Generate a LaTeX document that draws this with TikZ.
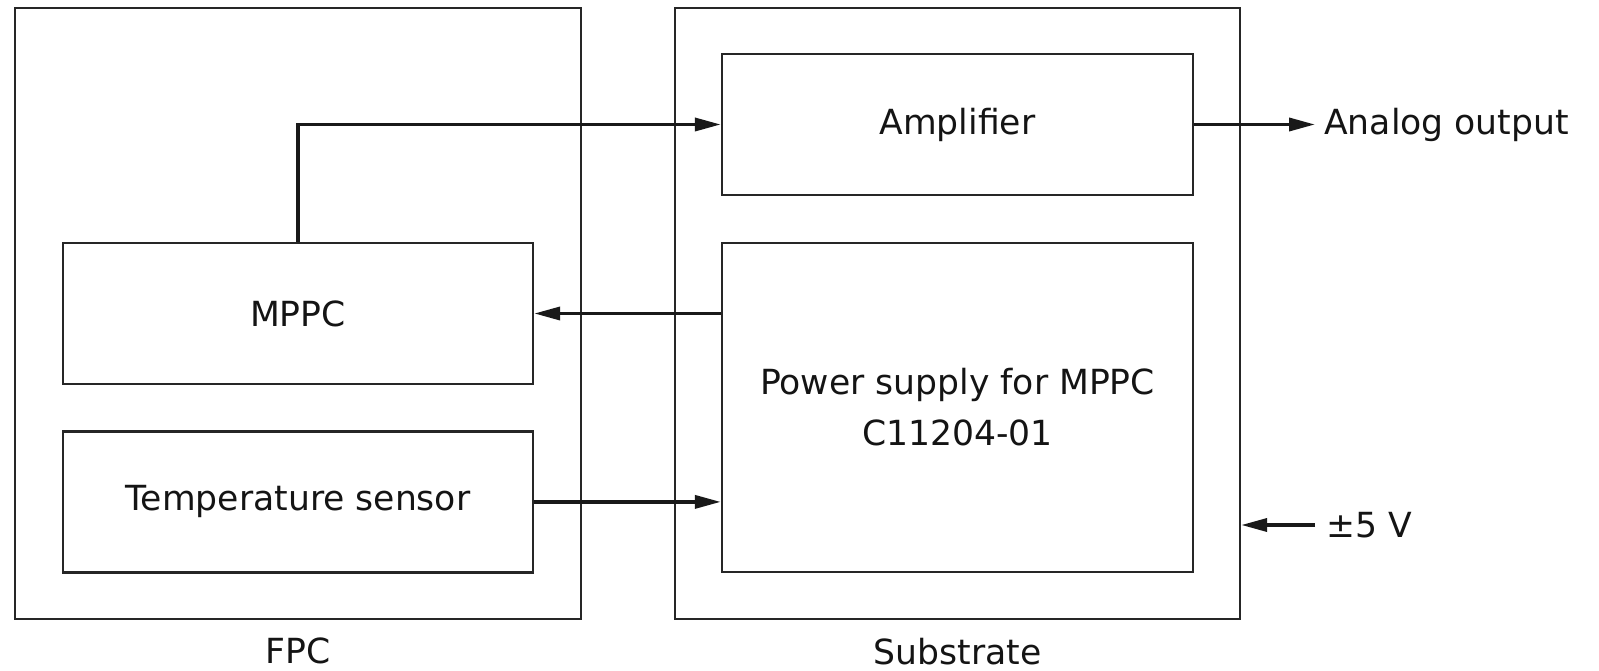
\documentclass[tikz,border=0pt]{standalone}
\usepackage{fontspec}
\setmainfont{DejaVu Sans}
\usepackage{xcolor}
\usetikzlibrary{arrows.meta,positioning}

\begin{document}
\begin{tikzpicture}[x=1pt,y=-1pt,
  node distance=45pt and 189pt,
  every node/.style={font=\fontsize{34.6}{51}\selectfont,text=black!92},
  frame/.style={rectangle,draw=black!85,line width=2.4pt,minimum width=566pt,minimum height=611pt,inner sep=0pt},
  blk/.style={rectangle,draw=black!85,line width=2.4pt,align=center,minimum width=470pt,minimum height=141pt,inner sep=0pt},
  lbl/.style={inner sep=0pt},
  edge/.style={-{Triangle[length=26pt,width=13pt]},line width=3.6pt,draw=black!90}]
\useasboundingbox (0,0) rectangle (1599,671);
% outer boards
\node[frame] (fpc) at (298,313.5) {};
\node[frame,minimum width=565pt] (sub) at (957.5,313.5) {};
\node[lbl,anchor=north] (fpclbl) at (298,638) {FPC};
\node[lbl,anchor=north] (sublbl) at (957.5,638) {Substrate};
% blocks
\node[blk] (mppc) at (298,313.5) {MPPC};
\node[blk,below=of mppc] (temp) {Temperature sensor};
\node[blk,minimum width=471pt] (amp) at (957.5,124.5) {Amplifier};
\node[blk,minimum width=471pt,minimum height=329pt] (pwr) at (957.5,407.5) {Power supply for MPPC\\C11204-01};
% external terminals
\node[lbl,anchor=west] (aout) at (1324,124.5) {Analog output};
\node[lbl,anchor=west] (vin) at (1326,525) {±5 V};
\coordinate (aoutend) at (1315,124.5);
\coordinate (vinstart) at (1315,525);
% signals
\draw[edge] (mppc.north) |- (amp.west);
\draw[edge] (pwr.west |- mppc.east) -- (mppc.east);
\draw[edge] (temp.east) -- (pwr.west |- temp.east);
\draw[edge] (amp.east) -- (aoutend);
\draw[edge] (vinstart) -- (sub.east |- vinstart);
\end{tikzpicture}
\end{document}
